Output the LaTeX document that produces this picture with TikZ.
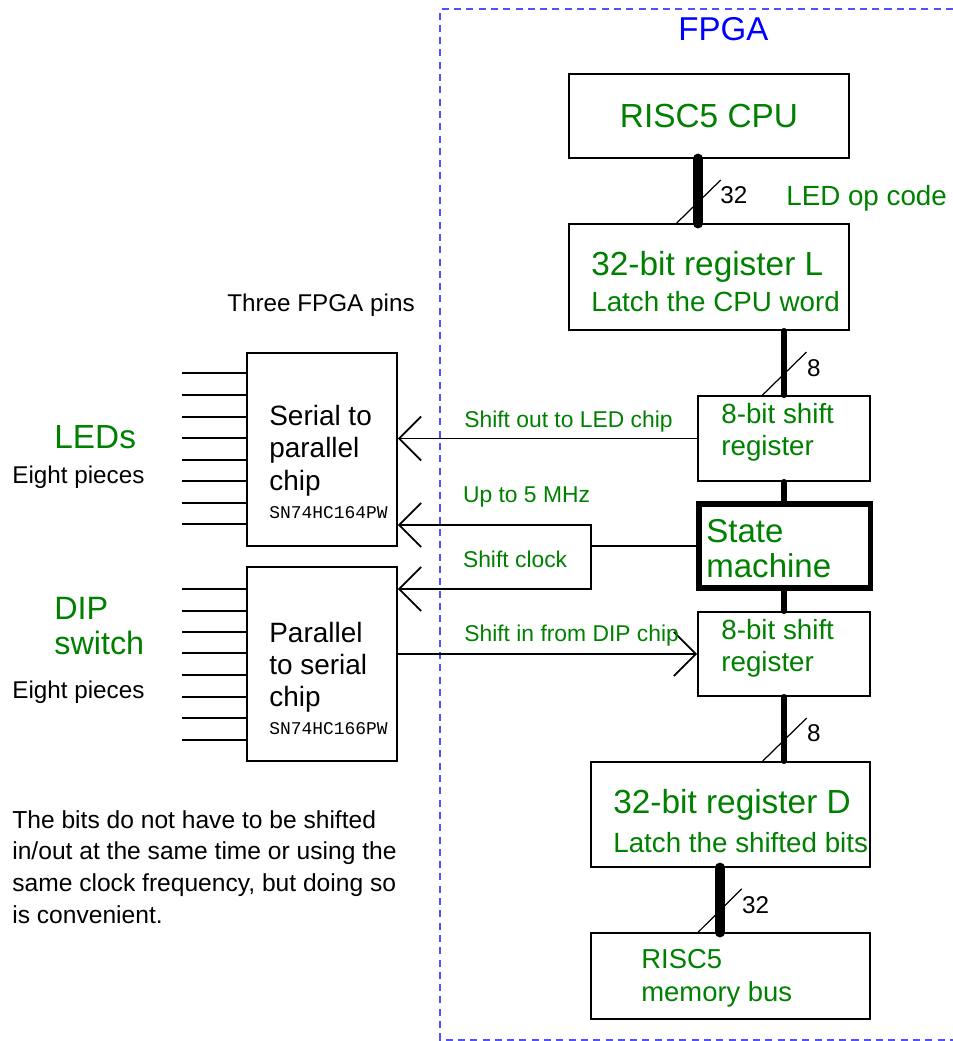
\documentclass[tikz,border=0pt]{standalone}
\usepackage{fontspec}
\setmainfont{Liberation Sans}
\setmonofont{Liberation Mono}
\usetikzlibrary{arrows.meta}

\definecolor{tgreen}{RGB}{0,128,0}
\definecolor{fpgablue}{RGB}{0,0,255}
\definecolor{dashblue}{RGB}{80,80,255}

\newcommand\fbig{\fontsize{19}{22}\selectfont}
\newcommand\fmid{\fontsize{15.8}{18.5}\selectfont}
\newcommand\fsmall{\fontsize{13.8}{18}\selectfont}
\newcommand\flab{\fontsize{13}{15}\selectfont}
\newcommand\fpart{\ttfamily\fontsize{10.2}{12}\selectfont}

\tikzset{
	blk/.style 2 args={draw, line width=1.1pt, inner sep=0pt, minimum width=#1, minimum height=#2},
	bus/.style={line width=#1, line cap=round},
	sig/.style={line width=1pt},
	sigarrow/.style={line width=1pt, -{Straight Barb[length=0.44cm, width=0.88cm]}},
	slash/.style={line width=0.7pt},
	txt/.style={inner sep=0pt, anchor=base west},
	mtxt/.style={inner sep=0pt, anchor=north west, align=left},
	fpgaline/.style={dashblue, line width=0.6pt, dash pattern=on 4pt off 3pt}
}

\begin{document}
\begin{tikzpicture}[x=0.02cm, y=-0.02cm]

	\useasboundingbox (0,0) rectangle (953,1041);

	\draw[fpgaline] (953,9) -- (440,9) -- (440,1040) -- (953,1040);
	\node[txt, font=\fontsize{18.8}{22}\selectfont, text=fpgablue] (fpga) at (678,40) {FPGA};

	% FPGA side
	\node[blk={5.6cm}{1.68cm}, font=\fbig, text=tgreen] (cpu) at (709,116) {RISC5 CPU};
	\node[blk={5.6cm}{2.12cm}] (regL) at (709,277) {};
	\node[blk={3.44cm}{1.7cm}] (shiftA) at (784,438.5) {};
	\node[blk={3.43cm}{1.68cm}, line width=3pt] (fsm) at (784.75,546) {};
	\node[blk={3.44cm}{1.68cm}] (shiftB) at (784,654) {};
	\node[blk={5.58cm}{2.1cm}] (regD) at (730.5,814.5) {};
	\node[blk={5.58cm}{1.72cm}] (membus) at (730.5,976) {};

	\node[txt, font=\fbig, text=tgreen] (regLa) at (591,275) {32-bit register L};
	\node[txt, font=\fmid, text=tgreen] (regLb) at (591,311) {Latch the CPU word};
	\node[mtxt, font=\fontsize{15.8}{18.5}\selectfont, text=tgreen] (shiftAt) at (721,403) {8-bit shift\\register};
	\node[mtxt, font=\fontsize{18.8}{19.8}\selectfont, text=tgreen] (fsmt) at (706,519) {State\\machine};
	\node[mtxt, font=\fontsize{15.8}{18.5}\selectfont, text=tgreen] (shiftBt) at (721,619) {8-bit shift\\register};
	\node[txt, font=\fbig, text=tgreen] (regDa) at (613,813) {32-bit register D};
	\node[txt, font=\fmid, text=tgreen] (regDb) at (613,852) {Latch the shifted bits};
	\node[mtxt, font=\fontsize{15.6}{18.9}\selectfont, text=tgreen] (membust) at (641,949) {RISC5\\memory bus};

	\node[txt, font=\fmid, text=tgreen] (opcode) at (786,205.7) {LED op code};

	\draw[bus=6.2pt] (cpu.south -| 698,0) -- (regL.north -| 698,0);
	\draw[slash] (676.7,0 |- regL.north) -- ++(44,-43);
	\node[txt, font=\fsmall] (w32a) at (720,203.3) {32};

	\draw[bus=3.4pt] (regL.south -| shiftA.north) -- (shiftA.north);
	\draw[slash] (762.5,0 |- shiftA.north) -- ++(44,-43);
	\node[txt, font=\fsmall] (w8a) at (806.7,376) {8};

	\draw[bus=3.4pt] (shiftA.south) -- (fsm.north -| shiftA.south);
	\draw[bus=3.4pt] (fsm.south -| shiftB.north) -- (shiftB.north);

	\draw[bus=3.4pt] (shiftB.south) -- (regD.north -| shiftB.south);
	\draw[slash] (762.7,0 |- regD.north) -- ++(44,-43);
	\node[txt, font=\fsmall] (w8b) at (806.7,741.7) {8};

	\draw[bus=6.2pt] (regD.south -| 720,0) -- (membus.north -| 720,0);
	\draw[slash] (698.3,0 |- membus.north) -- ++(43.4,-43.3);
	\node[txt, font=\fsmall] (w32b) at (741.7,913.3) {32};

	% chips
	\node[blk={3.0cm}{3.86cm}] (chipA) at (322,449.5) {};
	\node[blk={3.0cm}{3.88cm}] (chipB) at (322,664) {};
	\node[mtxt, font=\fontsize{15.9}{18.4}\selectfont] (chipAt) at (269,405) {Serial to\\parallel\\chip};
	\node[txt, font=\fpart] (chipAp) at (269,518.3) {SN74HC164PW};
	\node[mtxt, font=\fontsize{15.9}{18.4}\selectfont] (chipBt) at (269,621.7) {Parallel\\to serial\\chip};
	\node[txt, font=\fpart] (chipBp) at (269,734) {SN74HC166PW};

	\foreach \y in {373,395,417,438,460,481,503,524}
		\draw[sig] (182,\y) -- (chipA.west |- 0,\y);
	\foreach \y in {589,611,632,653,675,697,718,740}
		\draw[sig] (182,\y) -- (chipB.west |- 0,\y);

	\node[txt, font=\fsmall] (pins) at (227,311.7) {Three FPGA pins};
	\node[txt, font=\fbig, text=tgreen] (leds) at (54,448.3) {LEDs};
	\node[txt, font=\fsmall] (ledn) at (12,483.3) {Eight pieces};
	\node[mtxt, font=\fontsize{18.4}{20.2}\selectfont, text=tgreen] (dip) at (54,596.7) {DIP\\switch};
	\node[txt, font=\fsmall] (dipn) at (12,698.3) {Eight pieces};
	\node[mtxt, font=\fontsize{14}{18}\selectfont] (note) at (12,810) {The bits do not have to be shifted\\in/out at the same time or using the\\same clock frequency, but doing so\\is convenient.};

	% serial lines
	\draw[sigarrow] (shiftA.west) -- (shiftA.west -| chipA.east);
	\node[txt, font=\flab, text=tgreen] (soutl) at (464,427.3) {Shift out to LED chip};

	\coordinate (clk) at (591,546);
	\draw[sig] (fsm.west) -- (clk);
	\draw[sigarrow] (clk) |- (chipA.east |- 0,525);
	\draw[sigarrow] (clk) |- (chipB.east |- 0,589);
	\node[txt, font=\flab, text=tgreen] (rate) at (462.7,502.3) {Up to 5 MHz};
	\node[txt, font=\flab, text=tgreen] (clkl) at (462.7,567.7) {Shift clock};

	\draw[sigarrow] (chipB.east |- shiftB.west) -- (shiftB.west);
	\node[txt, font=\flab, text=tgreen] (sinl) at (464,641.7) {Shift in from DIP chip};

\end{tikzpicture}
\end{document}
